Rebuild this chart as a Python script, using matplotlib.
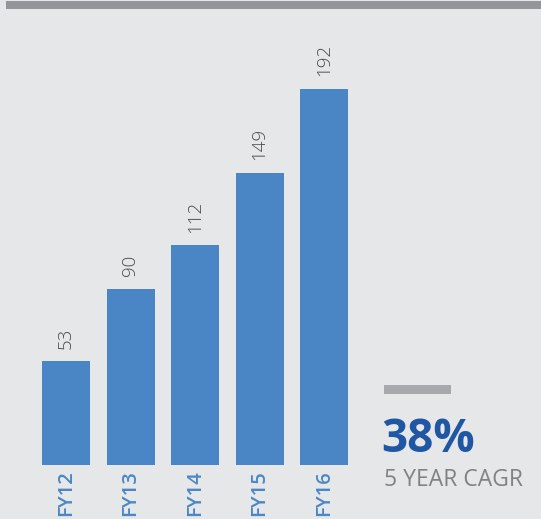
import matplotlib.pyplot as plt
from matplotlib.patches import Rectangle

years = ['FY12', 'FY13', 'FY14', 'FY15', 'FY16']
values = [53, 90, 112, 149, 192]
cagr = '38%'
cagr_label = '5 YEAR CAGR'

bg = '#e6e7e8'
blue = '#4a86c6'

plt.rcParams['font.family'] = ['Open Sans', 'DejaVu Sans']

W, H = 541, 519
fig = plt.figure(figsize=(W / 100, H / 100), dpi=100, facecolor=bg)

# axes placed in pixel terms: bar pitch 64.5px, first centre at x=66, baseline y=465
left, pitch = 66 - 32.25, 64.5
ax = fig.add_axes([left / W, (H - 465) / H, 5 * pitch / W, 435 / H])
ax.set_facecolor(bg)
x = range(len(years))
bars = ax.bar(x, values, width=48 / pitch, color=blue)
ax.set_xlim(-0.5, 4.5)
ax.set_ylim(0, 435 / 1.96)

for b, v in zip(bars, values):
    ax.annotate(str(v), (b.get_x() + b.get_width() / 2, v), xytext=(0, 9),
                textcoords='offset points', rotation=90, ha='center', va='bottom',
                fontsize=13.5, color='#4a4a4a', fontweight='light')

ax.set_xticks(list(x))
ax.set_xticklabels(years, rotation=90, fontsize=14.5, color=blue, fontweight='semibold')
ax.tick_params(axis='x', length=0, pad=4)
ax.set_yticks([])
for s in ax.spines.values():
    s.set_visible(False)

# top rule and small rule above the CAGR figure
fig.add_artist(Rectangle((6 / W, (H - 9) / H), (W - 6) / W, 8 / H,
                         transform=fig.transFigure, color='#939598', lw=0))
fig.add_artist(Rectangle((384 / W, (H - 394) / H), 67 / W, 9 / H,
                         transform=fig.transFigure, color='#a7a9ac', lw=0))

fig.text(381 / W, (H - 452) / H, cagr, fontsize=33, fontweight='bold',
         color='#1f57a4', ha='left', va='baseline')
fig.text(384 / W, (H - 486) / H, cagr_label, fontsize=16.5,
         color='#808285', ha='left', va='baseline')

fig.savefig('out.png', dpi=100, facecolor=bg)
